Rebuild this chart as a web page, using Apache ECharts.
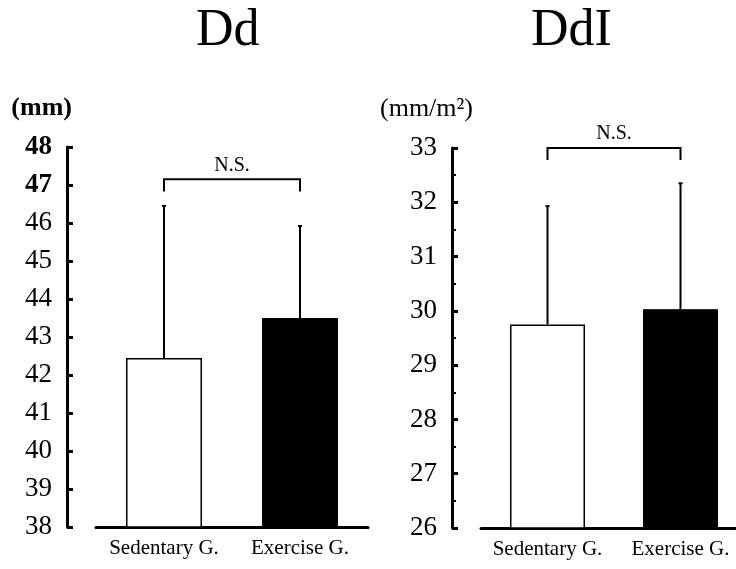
<!DOCTYPE html>
<html>
<head>
<meta charset="utf-8">
<script src="https://cdn.jsdelivr.net/npm/echarts@6/dist/echarts.min.js"></script>
<style>
  html, body { margin: 0; padding: 0; background: #fff; }
  #main { width: 736px; height: 569px; }
</style>
</head>
<body>
<div id="main"></div>
<script>
// values
var categories = ["Sedentary G.", "Exercise G."];

var ddMeans = [42.45, 43.5];
var ddUpper = [46.45, 45.92];
var ddBracket = [46.83, 47.15]; // [tip, top]
var ddRange = [38, 48];

var ddiMeans = [29.75, 30.03];
var ddiUpper = [31.93, 32.35];
var ddiBracket = [32.78, 33.0];
var ddiRange = [26, 33];

var serif = "Liberation Serif";

var chartDom = document.getElementById("main");
var myChart = echarts.init(chartDom);
var option;

function barData(means) {
  return means.map(function (v, i) {
    return {
      value: v,
      itemStyle: i === 0
        ? { color: "#fff", borderColor: "#000", borderWidth: 1.5 }
        : { color: "#000", borderColor: "#000", borderWidth: 1 },
    };
  });
}

function errData(means, upper) {
  return means.map(function (v, i) {
    return [i, v, upper[i]];
  });
}

function renderErr(params, api) {
  var top = api.coord([api.value(0), api.value(2)]);
  var bot = api.coord([api.value(0), api.value(1)]);
  var st = { stroke: "#000", lineWidth: 2 };
  return {
    type: "group",
    children: [
      { type: "line", shape: { x1: top[0], y1: top[1], x2: bot[0], y2: bot[1] }, style: st },
      { type: "line", shape: { x1: top[0] - 2, y1: top[1], x2: top[0] + 2, y2: top[1] }, style: st },
    ],
  };
}

function renderBracket(params, api) {
  var a = api.coord([0, api.value(1)]);
  var b = api.coord([1, api.value(1)]);
  var aLow = api.coord([0, api.value(0)]);
  var bLow = api.coord([1, api.value(0)]);
  return {
    type: "group",
    children: [
      {
        type: "polyline",
        shape: { points: [aLow, a, b, bLow] },
        style: { stroke: "#000", lineWidth: 2, fill: null },
      },
      {
        type: "text",
        x: (a[0] + b[0]) / 2,
        y: a[1] - 4,
        style: {
          text: "N.S.",
          textAlign: "center",
          textVerticalAlign: "bottom",
          font: "20px '" + serif + "'",
          fill: "#000",
        },
      },
    ],
  };
}

function yAxisOf(idx, range, name, boldFrom, minor) {
  return {
    type: "value",
    gridIndex: idx,
    min: range[0],
    max: range[1],
    interval: 1,
    offset: 29,
    name: name,
    nameLocation: "end",
    nameGap: 26,
    nameTextStyle: {
      fontFamily: serif,
      fontSize: 26,
      fontWeight: idx === 0 ? "bold" : "normal",
      color: "#000",
      align: "right",
      padding: [0, idx === 0 ? -5 : -21, 0, 0],
    },
    axisLine: { show: true, lineStyle: { color: "#000", width: 3 } },
    axisTick: { show: true, inside: true, length: 6, lineStyle: { color: "#000", width: 3 } },
    minorTick: { show: minor, splitNumber: 2, length: 4, lineStyle: { color: "#000", width: 2 } },
    splitLine: { show: false },
    axisLabel: {
      margin: 15,
      fontFamily: serif,
      fontSize: 27,
      color: "#000",
      formatter: function (v) {
        return boldFrom && v >= boldFrom ? "{b|" + v + "}" : String(v);
      },
      rich: { b: { fontFamily: serif, fontSize: 27, fontWeight: "bold", color: "#000" } },
    },
  };
}

function xAxisOf(idx) {
  return {
    type: "category",
    gridIndex: idx,
    data: categories,
    axisLine: { show: true, onZero: false, lineStyle: { color: "#000", width: 3 } },
    axisTick: { show: false },
    axisLabel: { interval: 0, margin: 11, fontFamily: serif, fontSize: 21, color: "#000" },
  };
}

option = {
  animation: false,
  backgroundColor: "#fff",
  title: [
    { text: "Dd", left: 191, top: 0, textStyle: { fontFamily: serif, fontSize: 52, fontWeight: "normal", color: "#000" } },
    { text: "DdI", left: 526, top: 0, textStyle: { fontFamily: serif, fontSize: 52, fontWeight: "normal", color: "#000" } },
  ],
  grid: [
    { left: 96, width: 272, top: 147, height: 380, outerBoundsMode: "none" },
    { left: 481, width: 266, top: 148, height: 380, outerBoundsMode: "none" },
  ],
  xAxis: [xAxisOf(0), xAxisOf(1)],
  yAxis: [
    yAxisOf(0, ddRange, "(mm)", 47, false),
    yAxisOf(1, ddiRange, "(mm/m²)", null, true),
  ],
  series: [
    { type: "bar", xAxisIndex: 0, yAxisIndex: 0, barWidth: 76, data: barData(ddMeans) },
    { type: "custom", xAxisIndex: 0, yAxisIndex: 0, z: 5, renderItem: renderErr, data: errData(ddMeans, ddUpper) },
    { type: "custom", xAxisIndex: 0, yAxisIndex: 0, z: 5, renderItem: renderBracket, data: [ddBracket] },
    { type: "bar", xAxisIndex: 1, yAxisIndex: 1, barWidth: 75, data: barData(ddiMeans) },
    { type: "custom", xAxisIndex: 1, yAxisIndex: 1, z: 5, renderItem: renderErr, data: errData(ddiMeans, ddiUpper) },
    { type: "custom", xAxisIndex: 1, yAxisIndex: 1, z: 5, renderItem: renderBracket, data: [ddiBracket] },
  ],
};

option && myChart.setOption(option);
</script>
</body>
</html>
